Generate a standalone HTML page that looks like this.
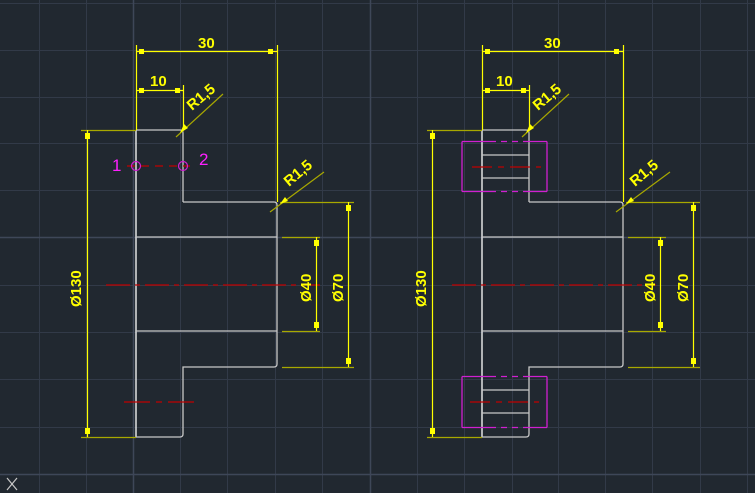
<!DOCTYPE html>
<html><head><style>html,body{margin:0;padding:0;background:#212830;}svg{display:block}</style></head><body>
<svg width="755" height="493" viewBox="0 0 755 493" xmlns="http://www.w3.org/2000/svg" font-family="Liberation Sans, sans-serif">
<rect width="755" height="493" fill="#212830"/>
<g stroke="#323a48" stroke-width="1">
<line x1="39.5" y1="0" x2="39.5" y2="493"/><line x1="86.5" y1="0" x2="86.5" y2="493"/>
<line x1="180.5" y1="0" x2="180.5" y2="493"/><line x1="227.5" y1="0" x2="227.5" y2="493"/><line x1="275.5" y1="0" x2="275.5" y2="493"/><line x1="322.5" y1="0" x2="322.5" y2="493"/>
<line x1="417.5" y1="0" x2="417.5" y2="493"/><line x1="464.5" y1="0" x2="464.5" y2="493"/><line x1="512.5" y1="0" x2="512.5" y2="493"/><line x1="558.5" y1="0" x2="558.5" y2="493"/><line x1="605.5" y1="0" x2="605.5" y2="493"/><line x1="652.5" y1="0" x2="652.5" y2="493"/><line x1="700.5" y1="0" x2="700.5" y2="493"/><line x1="747.5" y1="0" x2="747.5" y2="493"/>
<line x1="0" y1="3.5" x2="755" y2="3.5"/><line x1="0" y1="50.5" x2="755" y2="50.5"/><line x1="0" y1="97.5" x2="755" y2="97.5"/><line x1="0" y1="143.5" x2="755" y2="143.5"/><line x1="0" y1="190.5" x2="755" y2="190.5"/><line x1="0" y1="285.5" x2="755" y2="285.5"/><line x1="0" y1="332.5" x2="755" y2="332.5"/><line x1="0" y1="379.5" x2="755" y2="379.5"/><line x1="0" y1="427.5" x2="755" y2="427.5"/>
</g>
<g stroke="#3e4758" stroke-width="1.5">
<line x1="133.5" y1="0" x2="133.5" y2="493"/><line x1="370.5" y1="0" x2="370.5" y2="493"/>
<line x1="0" y1="237.5" x2="755" y2="237.5"/><line x1="0" y1="474.5" x2="755" y2="474.5"/>
</g>
<g stroke="#c8c8c8" stroke-width="1.2"><line x1="7" y1="478" x2="17" y2="490"/><line x1="17" y1="478" x2="7" y2="490"/></g>

<g fill="none" stroke-width="1.3">
<path d="M136,130 V437" stroke="#ffffff"/>
<path d="M136,130 H180 Q183,130 183,133 V202" stroke="#c8c8c8"/>
<path d="M183,202 H274 Q277,202 277,205 V364 Q277,367 274,367 H183 V434 Q183,437 180,437 H136" stroke="#c8c8c8"/>
<path d="M136,237 H277 M136,331 H277" stroke="#c8c8c8"/>
<path d="M106,285 H320" stroke="#c00000" stroke-dasharray="24,5,5,5"/>
<path d="M124,402 H194" stroke="#c00000" stroke-dasharray="26,6,6,6"/>
<path d="M127,166 H190" stroke="#c00000" stroke-dasharray="8,6"/>
</g>
<g fill="none" stroke="#d020d0" stroke-width="1.2"><circle cx="136" cy="166" r="4.5"/><circle cx="183" cy="166" r="4.5"/></g>
<text x="112" y="171" fill="#ff20ff" font-size="17">1</text>
<text x="199" y="165" fill="#ff20ff" font-size="17">2</text>

<g fill="none" stroke-width="1.3">
<path d="M482,130 V437" stroke="#ffffff"/>
<path d="M482,130 H526 Q529,130 529,133 V202" stroke="#c8c8c8"/>
<path d="M529,202 H620 Q623,202 623,205 V364 Q623,367 620,367 H529 V434 Q529,437 526,437 H482" stroke="#c8c8c8"/>
<path d="M482,237 H623 M482,331 H623 M482,155 H529 M482,178 H529 M482,390 H529 M482,413 H529" stroke="#c8c8c8"/>
<path d="M452,285 H656" stroke="#c00000" stroke-dasharray="24,5,5,5"/>
<path d="M472,167 H541" stroke="#c00000" stroke-dasharray="20,6,6,6"/>
<path d="M470,402 H539" stroke="#c00000" stroke-dasharray="20,6,6,6"/>
<path d="M462,141.5 V191.5 M547,141.5 V191.5 M462,376.5 V427.5 M547,376.5 V427.5" stroke="#d020d0"/>
<path d="M462,141.5 H547 M462,191.5 H547 M462,376.5 H547 M462,427.5 H547" stroke="#d020d0" stroke-dasharray="34,5,6,5,6,5,40"/>
</g>

<g stroke-width="1.2" fill="none">
<g stroke="#a8a800">
<path d="M81,130.5 H136 M81,437.5 H136 M280,202.5 H354 M282,237.5 H320 M282,331.5 H320 M282,367.5 H354"/>
<path d="M427,130.5 H482 M427,437.5 H482 M626,202.5 H700 M628,237.5 H666 M628,331.5 H666 M628,367.5 H700"/>
<path d="M176,137 L223,94 M270,212 L324,172 M522,137 L569,94 M616,212 L670,172"/>
</g>
<g stroke="#ffff00">
<path d="M136.5,45 V130 M277.5,45 V202 M183.5,85 V130 M136,51.5 H277 M136,90.5 H183"/>
<path d="M482.5,45 V130 M623.5,45 V202 M529.5,85 V130 M482,51.5 H623 M482,90.5 H529"/>
<path d="M87.5,130 V437 M316.5,237 V331 M348.5,202 V367"/>
<path d="M432.5,130 V437 M660.5,237 V331 M693.5,202 V367"/>
</g>
</g>
<g fill="#ffff00">
<rect x="139" y="49" width="5" height="5"/><rect x="268" y="49" width="5" height="5"/>
<rect x="139" y="88" width="5" height="5"/><rect x="175" y="88" width="5" height="5"/>
<rect x="485" y="49" width="5" height="5"/><rect x="614" y="49" width="5" height="5"/>
<rect x="485" y="88" width="5" height="5"/><rect x="521" y="88" width="5" height="5"/>
<rect x="85" y="133" width="5" height="6"/><rect x="85" y="428" width="5" height="6"/>
<rect x="430" y="133" width="5" height="6"/><rect x="430" y="428" width="5" height="6"/>
<rect x="314" y="240" width="5" height="6"/><rect x="314" y="322" width="5" height="6"/>
<rect x="346" y="205" width="5" height="6"/><rect x="346" y="358" width="5" height="6"/>
<rect x="658" y="240" width="5" height="6"/><rect x="658" y="322" width="5" height="6"/>
<rect x="691" y="205" width="5" height="6"/><rect x="691" y="358" width="5" height="6"/>
<polygon points="180,133 184,124 188,128"/><polygon points="280,204 285,197 288,201"/>
<polygon points="526,133 530,124 534,128"/><polygon points="626,204 631,197 634,201"/>
</g>
<g fill="#ffff00" font-size="15" font-weight="bold">
<text x="198" y="48">30</text><text x="150" y="86">10</text>
<text x="544" y="48">30</text><text x="496" y="86">10</text>
<text transform="translate(192,111) rotate(-40)">R1,5</text>
<text transform="translate(289,187) rotate(-40)">R1,5</text>
<text transform="translate(538,111) rotate(-40)">R1,5</text>
<text transform="translate(635,187) rotate(-40)">R1,5</text>
<text transform="translate(81,307) rotate(-90)">Ø130</text>
<text transform="translate(426,307) rotate(-90)">Ø130</text>
<text transform="translate(311,302) rotate(-90)">Ø40</text>
<text transform="translate(343,302) rotate(-90)">Ø70</text>
<text transform="translate(655,302) rotate(-90)">Ø40</text>
<text transform="translate(688,302) rotate(-90)">Ø70</text>
</g>
</svg>
</body></html>
